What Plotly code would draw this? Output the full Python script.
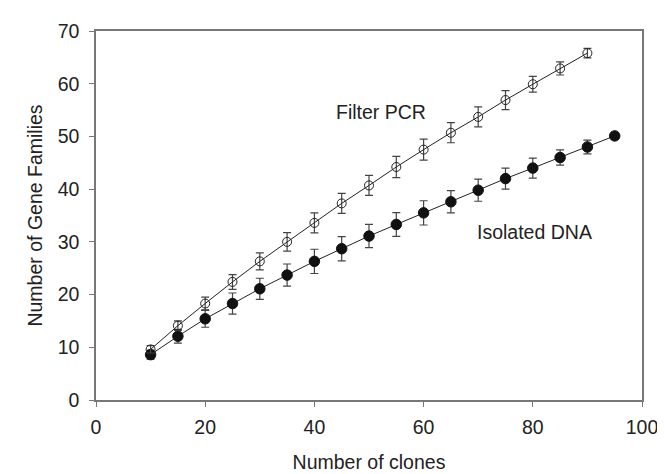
import plotly.graph_objects as go

clones_pcr = [10, 15, 20, 25, 30, 35, 40, 45, 50, 55, 60, 65, 70, 75, 80, 85, 90]
pcr_values = [9.6, 14.1, 18.3, 22.4, 26.3, 30.0, 33.6, 37.3, 40.7, 44.2, 47.5, 50.7, 53.7, 56.9, 59.9, 62.9, 65.8]
pcr_err = [0.7, 0.9, 1.2, 1.4, 1.6, 1.75, 1.9, 1.9, 1.9, 2.0, 2.0, 1.9, 1.9, 1.8, 1.5, 1.25, 0.9]

clones_dna = [10, 15, 20, 25, 30, 35, 40, 45, 50, 55, 60, 65, 70, 75, 80, 85, 90, 95]
dna_values = [8.6, 12.1, 15.4, 18.3, 21.1, 23.7, 26.3, 28.7, 31.1, 33.3, 35.5, 37.6, 39.8, 42.0, 44.0, 46.0, 48.0, 50.1]
dna_err = [0.85, 1.3, 1.6, 2.0, 2.0, 2.1, 2.3, 2.3, 2.2, 2.25, 2.3, 2.1, 2.1, 2.0, 1.9, 1.45, 1.3, 0.6]

x_ticks = [0, 20, 40, 60, 80, 100]
y_ticks = [0, 10, 20, 30, 40, 50, 60, 70]

font_family = "Liberation Sans, Arial, sans-serif"
FS = 19.5

fig = go.Figure()
fig.add_trace(go.Scatter(
    x=clones_dna, y=dna_values, mode="lines+markers",
    line=dict(color="#222222", width=1),
    marker=dict(symbol="circle", size=10.5, color="#111111", line=dict(color="#111111", width=1)),
    error_y=dict(type="data", array=dna_err, color="#444444", thickness=1.2, width=4),
    showlegend=False,
))
fig.add_trace(go.Scatter(
    x=clones_pcr, y=pcr_values, mode="lines+markers",
    line=dict(color="#222222", width=1),
    marker=dict(symbol="circle-open", size=9, color="#222222", line=dict(width=1)),
    error_y=dict(type="data", array=pcr_err, color="#444444", thickness=1.2, width=4),
    showlegend=False,
))

fig.add_annotation(x=52.2, y=54.7, text="Filter PCR", showarrow=False,
                   font=dict(family=font_family, size=FS, color="#222222"))
fig.add_annotation(x=80.4, y=31.8, text="Isolated DNA", showarrow=False,
                   font=dict(family=font_family, size=FS, color="#222222"))

axis_common = dict(
    showgrid=False, zeroline=False, showline=True, linecolor="#777777", linewidth=1.5,
    mirror=True, ticks="outside", ticklen=5, tickcolor="#777777", tickwidth=1,
    tickfont=dict(family=font_family, size=FS, color="#222222"),
)

fig.update_xaxes(range=[0, 100], tickvals=x_ticks, ticklabelstandoff=4,
                 title=dict(text="Number of clones", font=dict(family=font_family, size=FS, color="#222222"), standoff=18),
                 **axis_common)
fig.update_yaxes(range=[0, 70], tickvals=y_ticks, ticklabelstandoff=6,
                 title=dict(text="Number of Gene Families", font=dict(family=font_family, size=FS, color="#222222"), standoff=10),
                 **axis_common)

fig.update_layout(
    width=665, height=474,
    margin=dict(l=88, r=31, t=14, b=76),
    plot_bgcolor="white", paper_bgcolor="white",
)

fig.write_html("out.html")
